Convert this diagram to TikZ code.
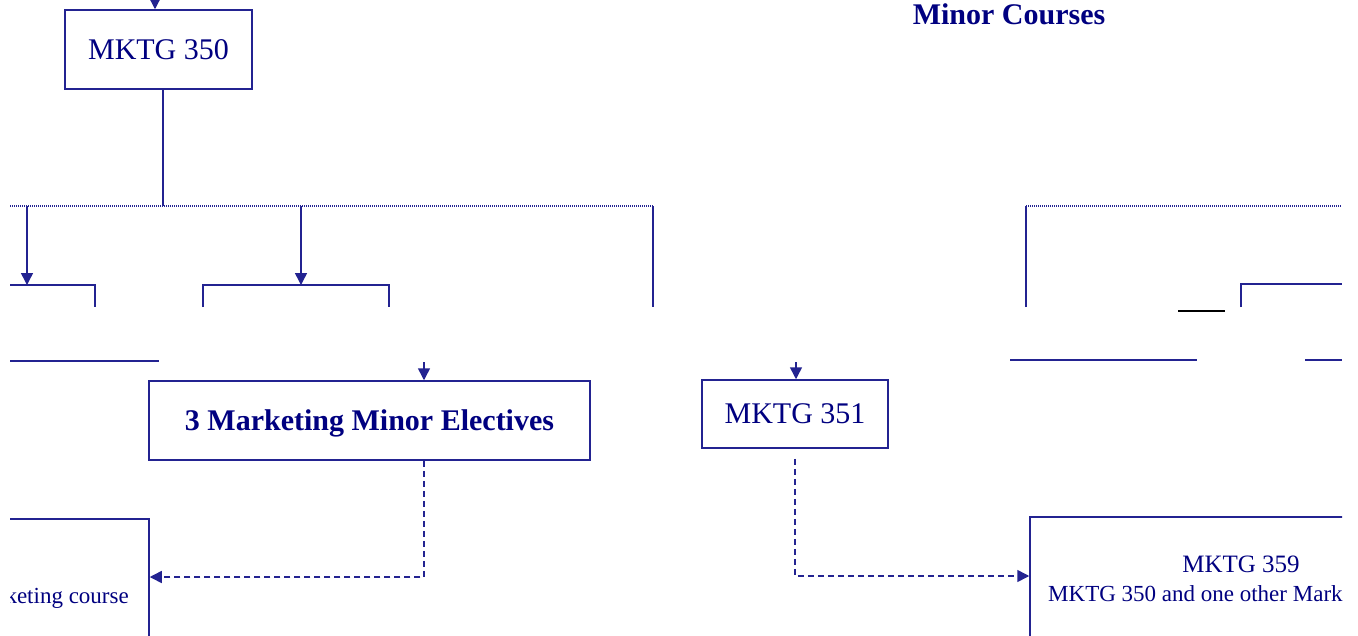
\documentclass[tikz,border=0pt]{standalone}
\usepackage{fontspec}
\setmainfont{Liberation Serif}
\usetikzlibrary{arrows.meta,calc}
\definecolor{lncol}{RGB}{35,35,145}
\definecolor{txcol}{RGB}{0,0,128}
\begin{document}
\begin{tikzpicture}[x=1pt,y=-1pt,
  box/.style={draw=lncol,line width=1.5pt,text=txcol,inner sep=0pt},
  conn/.style={draw=lncol,line width=1.5pt},
  dotline/.style={draw=lncol,line width=1.4pt,dash pattern=on 1pt off 1pt},
  dashline/.style={draw=lncol,line width=1.5pt,dash pattern=on 6pt off 4pt},
  tip/.style={-{Triangle[length=12pt,width=12pt]}},
  big/.style={font=\fontsize{30}{36}\selectfont},
  bigbf/.style={font=\fontsize{30}{36}\selectfont\bfseries},
  small/.style={text=txcol,font=\fontsize{23}{27}\selectfont,inner sep=0pt}
]
\fill[white] (0,0) rectangle (1358,635);
\useasboundingbox (0,0) rectangle (1358,635);
\begin{scope}
\clip (10,-30) rectangle (1342,640);

% title
\node[text=txcol,bigbf,anchor=base,inner sep=0pt] (title) at (1009,24) {Minor Courses};

% boxes
\node[box,big,minimum width=187pt,minimum height=79pt] (m350) at (158.5,49.5) {MKTG 350};
\node[box,bigbf,text depth=0pt,minimum width=441pt,minimum height=79pt] (elec) at (369.5,420.5) {3 Marketing Minor Electives};
\node[box,big,minimum width=186pt,minimum height=68pt] (m351) at (795,414) {MKTG 351};
\node[box,minimum width=422pt,minimum height=126pt] (m359) at (1241,580) {};
\node[box,minimum width=200pt,minimum height=162pt] (lb) at (49,600) {};

% texts inside partial boxes
\node[text=txcol,font=\fontsize{25}{30}\selectfont,anchor=base,inner sep=0pt] (m359t) at (1241,572) {MKTG 359};
\node[small,anchor=base west] (m359s) at (1048,601) {MKTG 350 and one other Marketing course};
\node[small,anchor=base east] (lbt) at (129,603) {Marketing course};

% top incoming arrow
\coordinate (topin) at (155,-20);
\draw[conn,tip] (topin) -- (topin |- m350.north);

% bus from MKTG 350
\coordinate (bus) at (163,206);
\coordinate (busL) at (10,206);
\coordinate (busR) at (653,206);
\coordinate (cutR) at (653,307);
\draw[conn] (bus |- m350.south) -- (bus);
\draw[dotline] (busL) -- (busR);
\draw[conn] (busR) -- (cutR);

% branches into partial boxes
\coordinate (da) at (27,206);
\coordinate (pa) at (27,285);
\coordinate (db) at (301,206);
\coordinate (pb) at (301,285);
\draw[conn,tip] (da) -- (pa);
\draw[conn,tip] (db) -- (pb);

% partial boxes (cut)
\draw[conn] (10,285) -- (95,285) -- (95,307);
\draw[conn] (203,307) -- (203,285) -- (389,285) -- (389,307);
\draw[conn] (10,361) -- (159,361);

% right part
\coordinate (rb0) at (1026,307);
\coordinate (rb1) at (1026,206);
\coordinate (rb2) at (1342,206);
\draw[conn] (rb0) -- (rb1);
\draw[dotline] (rb1) -- (rb2);
\draw[conn] (1241,307) -- (1241,284) -- (1342,284);
\draw[conn] (1010,360) -- (1197,360);
\draw[conn] (1305,360) -- (1342,360);
\draw[black,line width=2pt] (1178,311) -- (1225,311);

% arrows into electives and MKTG 351
\coordinate (ein) at (424,362);
\coordinate (min) at (796,362);
\draw[conn,tip] (ein) -- (ein |- elec.north);
\draw[conn,tip] (min) -- (min |- m351.north);

% dashed connectors
\coordinate (lbin) at (lb.east |- 0,577);
\draw[dashline,tip] (ein |- elec.south) -- (ein |- lbin) -- (lbin);
\coordinate (m359in) at (m359.west |- 0,576);
\draw[dashline,tip] ($(m351.south)+(0,10)$) -- (m351.south |- m359in) -- (m359in);
\end{scope}
\end{tikzpicture}
\end{document}
